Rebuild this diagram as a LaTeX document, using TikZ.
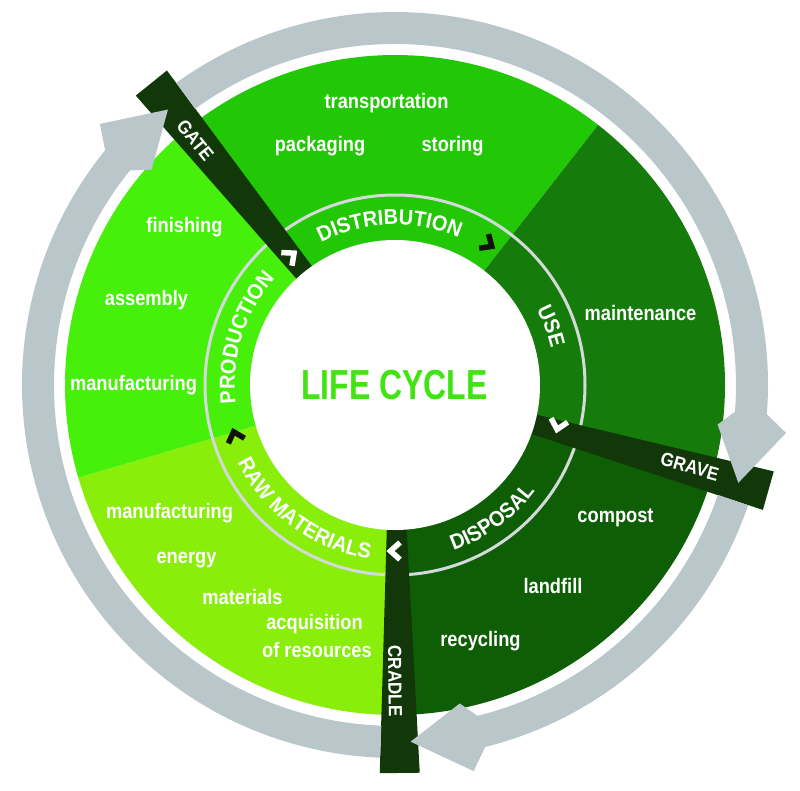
\documentclass[tikz,border=0pt]{standalone}
\usepackage{fontspec}
\setmainfont{Liberation Sans}
\newfontfamily\bandfont{Liberation Sans}[FakeStretch=0.93]
\newfontfamily\barfont{Liberation Sans}[FakeStretch=0.9]
\newfontfamily\labfont{Liberation Sans}[FakeStretch=0.87]
\newfontfamily\titlefont{Liberation Sans}[FakeStretch=0.76]
\usetikzlibrary{decorations.text}
\definecolor{cprod}{RGB}{70,240,10}
\definecolor{craw}{RGB}{136,238,10}
\definecolor{cdist}{RGB}{34,200,6}
\definecolor{cuse}{RGB}{21,123,10}
\definecolor{cdisp}{RGB}{14,94,6}
\definecolor{cbar}{RGB}{18,56,10}
\definecolor{cgray}{RGB}{185,199,202}
\definecolor{cline}{RGB}{212,218,218}
\definecolor{ctitle}{RGB}{64,228,16}
\definecolor{cchev}{RGB}{15,20,10}
\newcommand\bandstyle{\bandfont\bfseries\fontsize{21.5}{21.5}\selectfont}
\newcommand\grayarrow[3]{%
  \pgfmathsetmacro\backang{#2+2.5}%
  \fill[cgray] (#1:341) arc[start angle=#1,end angle=\backang,radius=341]
    -- (#2:325) -- (#3:357) -- (#2:394) -- (\backang:373)
    arc[start angle=\backang,end angle=#1,radius=373] -- cycle;}
\newcommand\stagebar[1]{%
  \begin{scope}[rotate=#1]
    \fill[cbar] (140,-9.8) -- (388,-20) -- (388,20) -- (140,9.8) -- cycle;
  \end{scope}}
\newcommand\chev[3]{%
  \begin{scope}[shift={(#1:#2)},rotate=#1-90]
    \draw[#3,line width=5.5,line join=miter,miter limit=10] (-5,8.5) -- (4.5,0) -- (-5,-8.5);
  \end{scope}}
\tikzset{
  lab/.style={text=white,font=\labfont\bfseries\fontsize{21}{21}\selectfont,anchor=base,inner sep=0pt},
  barlab/.style={text=white,font=\barfont\bfseries\fontsize{19}{19}\selectfont,inner sep=0pt},
  titlelab/.style={text=ctitle,font=\titlefont\bfseries\fontsize{42}{42}\selectfont,inner sep=0pt}
}
\begin{document}
\begin{tikzpicture}[x=1pt,y=1pt]
\useasboundingbox (-395,-405) rectangle (405,385);
\fill[white] (-395,-405) rectangle (405,385);
% sectors
\fill[cdist] (0,0) -- (128.9:330) arc[start angle=128.9,end angle=52,radius=330] -- cycle;
\fill[cuse] (0,0) -- (52:330) arc[start angle=52,end angle=-15.8,radius=330] -- cycle;
\fill[cdisp] (0,0) -- (-15.8:330) arc[start angle=-15.8,end angle=-89.3,radius=330] -- cycle;
\fill[craw] (0,0) -- (-89.3:330) arc[start angle=-89.3,end angle=-163.7,radius=330] -- cycle;
\fill[cprod] (0,0) -- (196.3:330) arc[start angle=196.3,end angle=128.9,radius=330] -- cycle;
% thin ring line
\draw[cline,line width=3] (0,0) circle[radius=190];
% stage bars
\stagebar{128.9}
\stagebar{-15.8}
\stagebar{-89.3}
% centre
\fill[white] (0,0) circle[radius=145];
% grey cycle arrows
\grayarrow{267.7}{138.5}{129.5}
\grayarrow{125.9}{-7}{-15.9}
\grayarrow{-18.8}{-78.5}{-87.5}
% band labels
\path[decorate,decoration={text along path,text align=center,text color=white,
  text={|\bandstyle|DISTRIBUTION}}] (132:160.3) arc[start angle=132,end angle=52,radius=160.3];
\path[decorate,decoration={text along path,text align=center,text color=white,
  text={|\bandstyle|USE}}] (50.6:160.3) arc[start angle=50.6,end angle=-9.4,radius=160.3];
\path[decorate,decoration={text along path,text align=center,text color=white,
  text={|\bandstyle|PRODUCTION}}] (202.5:160.3) arc[start angle=202.5,end angle=122.5,radius=160.3];
\path[decorate,decoration={text along path,text align=center,text color=white,
  text={|\bandstyle|DISPOSAL}}] (-93.9:175.7) arc[start angle=-93.9,end angle=-13.9,radius=175.7];
\path[decorate,decoration={text along path,text align=center,text color=white,
  text={|\bandstyle|RAW MATERIALS}}] (189:175.7) arc[start angle=189,end angle=279,radius=175.7];
% title
\node[titlelab] (title) at (-0.5,0) {LIFE CYCLE};
% bar labels
\node[barlab,rotate=-51.1] (gate) at (129.2:316) {GATE};
\node[barlab,rotate=-15.8] (grave) at (-15.5:306) {GRAVE};
\node[barlab,rotate=-89.3] (cradle) at (-90:296) {CRADLE};
% sector labels
\node[lab] (transp) at (-8.5,276) {transportation};
\node[lab] (pack) at (-75,233) {packaging};
\node[lab] (stor) at (57.5,233) {storing};
\node[lab] (fin) at (-210.5,152) {finishing};
\node[lab] (ass) at (-248.5,80) {assembly};
\node[lab] (manu) at (-261.5,-5) {manufacturing};
\node[lab] (maint) at (245.5,65) {maintenance};
\node[lab] (manuraw) at (-225.5,-133.5) {manufacturing};
\node[lab] (energy) at (-208.5,-178) {energy};
\node[lab] (mater) at (-152.5,-219) {materials};
\node[lab] (acq) at (-80.5,-244) {acquisition};
\node[lab] (ofres) at (-78,-272) {of resources};
\node[lab] (compost) at (220.5,-137) {compost};
\node[lab] (landfill) at (158,-208) {landfill};
\node[lab] (recyc) at (85.5,-261) {recycling};
% chevrons
\chev{129}{166}{white}
\chev{56.6}{169}{cchev}
\chev{-13.8}{168}{white}
\chev{-90}{166}{white}
\chev{197.7}{168}{cchev}
\end{tikzpicture}
\end{document}
